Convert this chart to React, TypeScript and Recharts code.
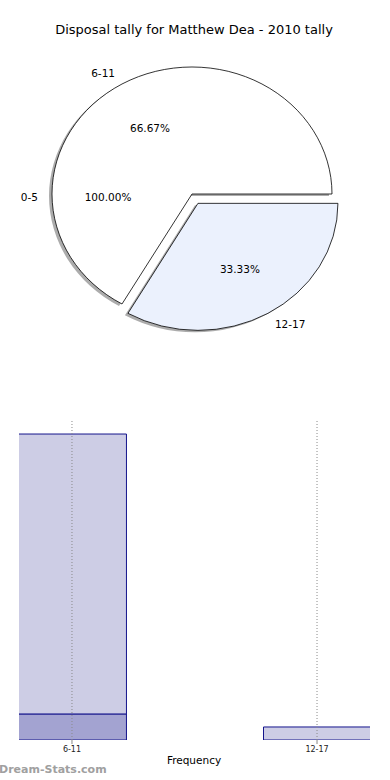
import React from 'react';
import { PieChart, Pie, Cell, BarChart, Bar, XAxis, YAxis, CartesianGrid } from 'recharts';

const chartTitle = 'Disposal tally for Matthew Dea - 2010 tally';
const ageGroups = ['0-5', '6-11', '12-17'];
const gameCounts = [0, 2, 1];
const pctLabels = ['100.00%', '66.67%', '33.33%'];
const sliceColors = ['#ffffff', '#ffffff', '#ebf1fd'];
const explodeAmounts = [0, 0, 0.085];

const barCategories = ['6-11', '12-17'];
const barLightValues = [21.5, 1];
const barDarkValues = [2, 0];
const axisTitle = 'Frequency';
const watermark = 'Dream-Stats.com';

const XR = 140 / 127; // horizontal stretch of the pie ellipse
const RAD = Math.PI / 180;
const FONT = '"DejaVu Sans", sans-serif';
const X_DOMAIN: [number, number] = [7 / 9 + 0.006, 20 / 9 - 0.006];

type Slice = { name: string; value: number; pct: string; color: string; explode: number };
const slices: Slice[] = ageGroups.map((name, i) => ({
  name,
  value: gameCounts[i],
  pct: pctLabels[i],
  color: sliceColors[i],
  explode: explodeAmounts[i],
}));
const drawnSlices = slices.filter((s) => s.value > 0);
const zeroSlices = slices.filter((s) => s.value === 0);

const barData = barCategories.map((c, i) => ({
  pos: i + 1,
  name: c,
  light: barLightValues[i],
  dark: barDarkValues[i],
}));
const barTicks = barData.map((d) => d.pos);

function explodeOffset(props: any) {
  const { outerRadius, midAngle, payload } = props;
  const e = (payload && payload.explode) || 0;
  return {
    dx: e * outerRadius * XR * Math.cos(midAngle * RAD),
    dy: -e * outerRadius * Math.sin(midAngle * RAD),
  };
}

function makeShape(shiftX: number, shiftY: number, shadow: boolean) {
  return (props: any) => {
    const { cx, cy, outerRadius, startAngle, endAngle, payload } = props;
    if (!payload || payload.value === 0) return <g />;
    const { dx, dy } = explodeOffset(props);
    const ox = cx + dx + shiftX;
    const oy = cy + dy + shiftY;
    const rx = outerRadius * XR;
    const ry = outerRadius;
    const x1 = ox + rx * Math.cos(startAngle * RAD);
    const y1 = oy - ry * Math.sin(startAngle * RAD);
    const x2 = ox + rx * Math.cos(endAngle * RAD);
    const y2 = oy - ry * Math.sin(endAngle * RAD);
    const delta = endAngle - startAngle;
    const large = Math.abs(delta) > 180 ? 1 : 0;
    const sweep = delta > 0 ? 0 : 1;
    const d = `M${ox},${oy} L${x1},${y1} A${rx},${ry} 0 ${large} ${sweep} ${x2},${y2} Z`;
    if (shadow) {
      return <path d={d} fill="#808080" fillOpacity={0.65} stroke="none" />;
    }
    return <path d={d} fill={payload.color} stroke="#000" strokeWidth={0.8} strokeLinejoin="round" />;
  };
}

function renderLabels(props: any) {
  const { cx, cy, outerRadius, midAngle, payload } = props;
  const { dx, dy } = explodeOffset(props);
  const c = Math.cos(midAngle * RAD);
  const s = Math.sin(midAngle * RAD);
  const ox = cx + dx;
  const oy = cy + dy;
  const lx = ox + 1.1 * outerRadius * XR * c;
  const ly = oy - 1.1 * outerRadius * s;
  const px = ox + 0.6 * outerRadius * XR * c;
  const py = oy - 0.6 * outerRadius * s;
  return (
    <g>
      <text
        x={lx}
        y={ly}
        textAnchor={c < 0 ? 'end' : 'start'}
        dominantBaseline="central"
        fontFamily={FONT}
        fontSize={10.5}
        fill="#000"
      >
        {payload.name}
      </text>
      <text
        x={px}
        y={py}
        textAnchor="middle"
        dominantBaseline="central"
        fontFamily={FONT}
        fontSize={10.5}
        fill="#000"
      >
        {payload.pct}
      </text>
    </g>
  );
}

function gridAtTicks(args: any) {
  const xAxis = args && args.xAxis;
  if (xAxis && typeof xAxis.scale === 'function') {
    return barTicks.map((t) => xAxis.scale(t));
  }
  const off = args && args.offset;
  if (off && typeof off.left === 'number' && typeof off.width === 'number') {
    return barTicks.map((t) => off.left + (off.width * (t - X_DOMAIN[0])) / (X_DOMAIN[1] - X_DOMAIN[0]));
  }
  return [];
}

export default function App() {
  return (
    <div style={{ position: 'absolute', left: 0, top: 0, width: 390, height: 780, background: '#fff', overflow: 'hidden' }}>
      <div
        style={{
          position: 'absolute',
          left: 0,
          top: 21,
          width: 388,
          textAlign: 'center',
          fontFamily: FONT,
          fontSize: 13,
          color: '#000',
          lineHeight: '17px',
        }}
      >
        {chartTitle}
      </div>
      <div style={{ position: 'absolute', left: 0, top: 0 }}>
        <PieChart width={390} height={390} margin={{ top: 0, right: 0, bottom: 0, left: 0 }}>
          <Pie
            data={drawnSlices}
            dataKey="value"
            cx={192}
            cy={194}
            outerRadius={127}
            startAngle={0}
            endAngle={360}
            isAnimationActive={false}
            stroke="none"
            shape={makeShape(-3, 2, true)}
            labelLine={false}
          >
            {drawnSlices.map((s) => (
              <Cell key={'sh' + s.name} fill="#808080" />
            ))}
          </Pie>
          <Pie
            data={drawnSlices}
            dataKey="value"
            cx={192}
            cy={194}
            outerRadius={127}
            startAngle={0}
            endAngle={360}
            isAnimationActive={false}
            shape={makeShape(0, 0, false)}
            label={renderLabels}
            labelLine={false}
          >
            {drawnSlices.map((s) => (
              <Cell key={s.name} fill={s.color} stroke="#000" />
            ))}
          </Pie>
          <Pie
            data={zeroSlices}
            dataKey={() => 1}
            cx={192}
            cy={197}
            outerRadius={127}
            startAngle={180}
            endAngle={180}
            isAnimationActive={false}
            stroke="none"
            fill="none"
            shape={makeShape(0, 0, false)}
            label={renderLabels}
            labelLine={false}
          />
        </PieChart>
      </div>
      <div style={{ position: 'absolute', left: 0, top: 400 }}>
        <BarChart width={390} height={380} data={barData} margin={{ top: 21, right: 20, left: 19, bottom: 18 }}>
          <XAxis
            dataKey="pos"
            type="number"
            domain={X_DOMAIN}
            ticks={barTicks}
            allowDataOverflow
            tickFormatter={(v: number) => barCategories[v - 1]}
            height={22}
            axisLine={false}
            tickLine={{ stroke: '#888' }}
            tickSize={4}
            tick={{ fontSize: 8, fontFamily: FONT, fill: '#222' }}
            interval={0}
          />
          <YAxis hide domain={[0, 24.5]} allowDataOverflow />
          <Bar dataKey="dark" stackId="a" barSize={108} fill="#a3a3d1" stroke="#14148c" strokeWidth={1} isAnimationActive={false} />
          <Bar dataKey="light" stackId="a" barSize={108} fill="#cdcde5" stroke="#14148c" strokeWidth={1} isAnimationActive={false} />
          <CartesianGrid
            horizontal={false}
            vertical
            strokeDasharray="1 2"
            stroke="#8a8a8a"
            verticalCoordinatesGenerator={gridAtTicks}
            zIndex={1000}
          />
        </BarChart>
      </div>
      <div
        style={{
          position: 'absolute',
          left: 0,
          top: 752,
          width: 388,
          textAlign: 'center',
          fontFamily: FONT,
          fontSize: 10.5,
          color: '#000',
          lineHeight: '16px',
        }}
      >
        {axisTitle}
      </div>
      <div
        style={{
          position: 'absolute',
          left: -1,
          top: 762,
          fontFamily: FONT,
          fontSize: 11,
          fontWeight: 'bold',
          color: '#a0a0a0',
          lineHeight: '16px',
        }}
      >
        {watermark}
      </div>
    </div>
  );
}
